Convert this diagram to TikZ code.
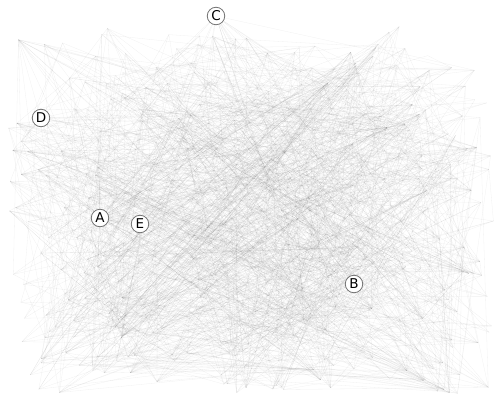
\documentclass[tikz,border=0pt]{standalone}
\usepackage{fontspec}
\usepackage{tikz}
\usetikzlibrary{backgrounds}
\newfontfamily\lblfont{DejaVu Sans}

\tikzset{
  vtx/.style={circle, draw=black!55, line width=0.8pt, fill=white, inner sep=0pt,
    minimum size=17.5pt, font=\lblfont\fontsize{13.5}{14}\selectfont},
  edge/.style={draw=black, line width=0.3pt, draw opacity=0.06}
}

\begin{document}
\begin{tikzpicture}[x=1pt, y=-1pt]
  \useasboundingbox (0,0) rectangle (499,399);
  \pgfmathsetseed{4217}

  % hidden vertices
  \foreach \i in {1,...,400}{
    \pgfmathsetmacro\px{8+486*rnd}
    \pgfmathsetmacro\py{26+368*rnd}
    \coordinate (v\i) at (\px,\py);
  }

  % labelled vertices
  \node[vtx] (A) at (100,218) {A};
  \node[vtx] (B) at (354,284) {B};
  \node[vtx] (C) at (216,16) {C};
  \node[vtx] (D) at (41,118) {D};
  \node[vtx] (E) at (140,224) {E};

  \begin{scope}[on background layer]
    \foreach \k in {1,...,1500}{
      \pgfmathtruncatemacro\a{1+int(400*rnd)}
      \pgfmathtruncatemacro\b{1+int(400*rnd)}
      \draw[edge] (v\a) -- (v\b);
    }
    % edges of the labelled vertices
    \foreach \k in {1,...,50}{
      \pgfmathtruncatemacro\a{1+int(400*rnd)}
      \draw[edge] (A) -- (v\a);
    }
    \foreach \k in {1,...,20}{
      \pgfmathtruncatemacro\a{1+int(400*rnd)}
      \draw[edge] (C) -- (v\a);
    }
    \foreach \k in {1,...,12}{
      \pgfmathtruncatemacro\a{1+int(400*rnd)}
      \pgfmathtruncatemacro\b{1+int(400*rnd)}
      \pgfmathtruncatemacro\c{1+int(400*rnd)}
      \draw[edge] (E) -- (v\a);
      \draw[edge] (B) -- (v\b);
      \draw[edge] (D) -- (v\c);
    }
    \draw[edge] (A) -- (E);
  \end{scope}
\end{tikzpicture}
\end{document}
